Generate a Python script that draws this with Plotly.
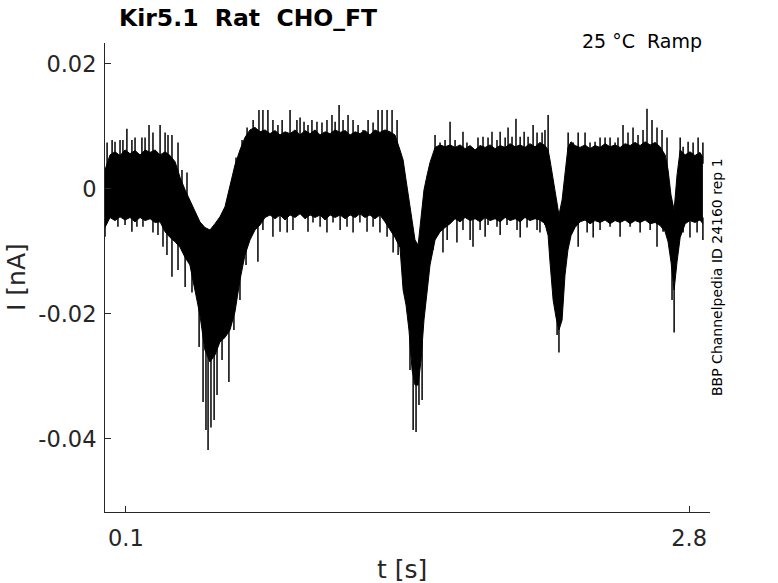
import numpy as np
import plotly.graph_objects as go

# ---- data (t in s, current in nA) ----
# dense core of the trace: time samples, upper edge, lower edge
t_core = [0.000, 0.024, 0.048, 0.072, 0.096, 0.120, 0.144, 0.168, 0.192, 0.216,
          0.240, 0.264, 0.288, 0.312, 0.336, 0.360, 0.384, 0.407, 0.431, 0.455,
          0.479, 0.503, 0.527, 0.551, 0.575, 0.599, 0.623, 0.647, 0.671, 0.695,
          0.719, 0.743, 0.767, 0.791, 0.815, 0.839, 0.863, 0.887, 0.911, 0.935,
          0.959, 0.983, 1.007, 1.031, 1.055, 1.079, 1.103, 1.127, 1.151, 1.175,
          1.199, 1.222, 1.246, 1.270, 1.294, 1.318, 1.342, 1.366, 1.390, 1.414,
          1.429, 1.443, 1.457, 1.472, 1.486, 1.501, 1.515, 1.529, 1.544, 1.558,
          1.582, 1.606, 1.630, 1.654, 1.678, 1.702, 1.726, 1.750, 1.774, 1.798,
          1.822, 1.846, 1.870, 1.894, 1.918, 1.942, 1.966, 1.990, 2.013, 2.037,
          2.061, 2.085, 2.109, 2.124, 2.133, 2.148, 2.162, 2.176, 2.191, 2.205,
          2.219, 2.234, 2.253, 2.277, 2.301, 2.325, 2.349, 2.373, 2.397, 2.421,
          2.445, 2.469, 2.493, 2.517, 2.541, 2.565, 2.589, 2.613, 2.637, 2.661,
          2.685, 2.699, 2.713, 2.728, 2.742, 2.757, 2.781, 2.804, 2.828, 2.852,
          2.866]

upper_core = [0.0030, 0.0054, 0.0059, 0.0053, 0.0062, 0.0056, 0.0061, 0.0054, 0.0062, 0.0058,
              0.0062, 0.0054, 0.0059, 0.0053, 0.0043, 0.0018, -0.0002, -0.0018, -0.0037, -0.0053,
              -0.0062, -0.0066, -0.0056, -0.0045, -0.0029, 0.0006, 0.0038, 0.0062, 0.0082, 0.0094,
              0.0098, 0.0091, 0.0094, 0.0088, 0.0093, 0.0086, 0.0091, 0.0088, 0.0094, 0.0086,
              0.0093, 0.0088, 0.0094, 0.0086, 0.0091, 0.0088, 0.0094, 0.0090, 0.0093, 0.0086,
              0.0091, 0.0088, 0.0093, 0.0086, 0.0094, 0.0090, 0.0094, 0.0091, 0.0086, 0.0062,
              0.0046, 0.0014, -0.0018, -0.0053, -0.0082, -0.0090, -0.0050, -0.0002, 0.0022, 0.0042,
              0.0066, 0.0070, 0.0067, 0.0070, 0.0066, 0.0070, 0.0064, 0.0069, 0.0062, 0.0069,
              0.0066, 0.0070, 0.0064, 0.0069, 0.0066, 0.0072, 0.0067, 0.0070, 0.0066, 0.0072,
              0.0067, 0.0074, 0.0069, 0.0062, 0.0046, 0.0014, -0.0018, -0.0042, -0.0018, 0.0022,
              0.0066, 0.0075, 0.0069, 0.0066, 0.0070, 0.0064, 0.0069, 0.0066, 0.0072, 0.0067,
              0.0070, 0.0066, 0.0072, 0.0069, 0.0074, 0.0069, 0.0075, 0.0070, 0.0074, 0.0067,
              0.0054, 0.0030, -0.0010, -0.0034, 0.0022, 0.0062, 0.0054, 0.0059, 0.0053, 0.0058,
              0.0050]

lower_core = [-0.0062, -0.0046, -0.0051, -0.0045, -0.0050, -0.0046, -0.0053, -0.0046, -0.0051, -0.0048,
              -0.0054, -0.0053, -0.0069, -0.0078, -0.0085, -0.0094, -0.0110, -0.0122, -0.0162, -0.0202,
              -0.0258, -0.0277, -0.0266, -0.0245, -0.0238, -0.0226, -0.0197, -0.0146, -0.0106, -0.0082,
              -0.0066, -0.0058, -0.0046, -0.0042, -0.0048, -0.0042, -0.0050, -0.0042, -0.0046, -0.0040,
              -0.0048, -0.0042, -0.0046, -0.0042, -0.0050, -0.0042, -0.0046, -0.0042, -0.0048, -0.0042,
              -0.0046, -0.0040, -0.0046, -0.0042, -0.0048, -0.0042, -0.0053, -0.0066, -0.0078, -0.0094,
              -0.0162, -0.0186, -0.0226, -0.0290, -0.0314, -0.0314, -0.0274, -0.0210, -0.0162, -0.0122,
              -0.0082, -0.0069, -0.0062, -0.0056, -0.0048, -0.0053, -0.0046, -0.0051, -0.0048, -0.0053,
              -0.0046, -0.0051, -0.0048, -0.0053, -0.0046, -0.0051, -0.0048, -0.0053, -0.0046, -0.0051,
              -0.0048, -0.0050, -0.0056, -0.0075, -0.0117, -0.0178, -0.0206, -0.0226, -0.0210, -0.0138,
              -0.0098, -0.0075, -0.0062, -0.0053, -0.0050, -0.0056, -0.0051, -0.0054, -0.0050, -0.0056,
              -0.0051, -0.0054, -0.0050, -0.0056, -0.0051, -0.0054, -0.0050, -0.0056, -0.0054, -0.0059,
              -0.0069, -0.0085, -0.0117, -0.0162, -0.0117, -0.0078, -0.0056, -0.0051, -0.0054, -0.0050,
              -0.0056]

# isolated noise spikes sticking out of the core
t_spike_up = [0.010, 0.034, 0.048, 0.072, 0.086, 0.105, 0.129, 0.144, 0.177, 0.192,
              0.211, 0.230, 0.264, 0.288, 0.302, 0.321, 0.350, 0.369, 0.393, 0.628,
              0.657, 0.681, 0.710, 0.738, 0.757, 0.781, 0.805, 0.829, 0.849, 0.887,
              0.920, 0.935, 0.954, 0.973, 0.992, 1.016, 1.040, 1.064, 1.088, 1.103,
              1.122, 1.141, 1.165, 1.189, 1.213, 1.237, 1.261, 1.285, 1.309, 1.328,
              1.352, 1.376, 1.400, 1.582, 1.606, 1.630, 1.654, 1.678, 1.716, 1.735,
              1.788, 1.812, 1.836, 1.855, 1.879, 1.894, 1.918, 1.932, 1.951, 1.970,
              1.990, 2.009, 2.028, 2.052, 2.071, 2.095, 2.109, 2.124, 2.220, 2.244,
              2.268, 2.301, 2.325, 2.349, 2.373, 2.397, 2.421, 2.445, 2.459, 2.483,
              2.507, 2.531, 2.555, 2.579, 2.598, 2.622, 2.646, 2.670, 2.694, 2.757,
              2.771, 2.795, 2.819, 2.843, 2.866]
i_spike_up = [0.0074, 0.0078, 0.0075, 0.0078, 0.0078, 0.0096, 0.0078, 0.0082, 0.0082, 0.0082,
              0.0102, 0.0090, 0.0102, 0.0090, 0.0086, 0.0086, 0.0074, 0.0030, 0.0026, 0.0050,
              0.0078, 0.0098, 0.0110, 0.0126, 0.0126, 0.0126, 0.0110, 0.0102, 0.0110, 0.0126,
              0.0110, 0.0114, 0.0107, 0.0102, 0.0110, 0.0107, 0.0106, 0.0110, 0.0118, 0.0107,
              0.0134, 0.0110, 0.0118, 0.0110, 0.0102, 0.0094, 0.0110, 0.0106, 0.0126, 0.0126,
              0.0126, 0.0126, 0.0110, 0.0086, 0.0074, 0.0078, 0.0107, 0.0078, 0.0091, 0.0074,
              0.0082, 0.0083, 0.0082, 0.0091, 0.0078, 0.0091, 0.0082, 0.0098, 0.0083, 0.0112,
              0.0083, 0.0091, 0.0083, 0.0102, 0.0090, 0.0090, 0.0094, 0.0118, 0.0090, 0.0074,
              0.0090, 0.0090, 0.0074, 0.0075, 0.0082, 0.0082, 0.0082, 0.0074, 0.0082, 0.0102,
              0.0090, 0.0098, 0.0086, 0.0094, 0.0128, 0.0110, 0.0098, 0.0094, 0.0082, 0.0082,
              0.0067, 0.0075, 0.0074, 0.0082, 0.0074]

t_spike_down = [0.000, 0.062, 0.096, 0.129, 0.153, 0.182, 0.230, 0.254, 0.278, 0.297,
                0.321, 0.350, 0.384, 0.417, 0.451, 0.470, 0.484, 0.494, 0.508, 0.523,
                0.537, 0.561, 0.594, 0.618, 0.647, 0.676, 0.733, 0.757, 0.805, 0.839,
                0.873, 0.901, 0.973, 0.997, 1.031, 1.064, 1.093, 1.127, 1.160, 1.189,
                1.222, 1.256, 1.285, 1.318, 1.352, 1.381, 1.405, 1.462, 1.477, 1.491,
                1.505, 1.520, 1.572, 1.620, 1.640, 1.687, 1.716, 1.750, 1.764, 1.798,
                1.822, 1.836, 1.879, 1.894, 1.927, 1.975, 1.990, 2.023, 2.071, 2.085,
                2.109, 2.167, 2.176, 2.229, 2.268, 2.311, 2.340, 2.373, 2.421, 2.469,
                2.517, 2.565, 2.613, 2.646, 2.675, 2.718, 2.728, 2.771, 2.804, 2.838,
                2.866]
i_spike_down = [-0.0077, -0.0061, -0.0058, -0.0069, -0.0061, -0.0061, -0.0070, -0.0074, -0.0093, -0.0106,
                -0.0141, -0.0130, -0.0157, -0.0166, -0.0253, -0.0341, -0.0386, -0.0418, -0.0382, -0.0370,
                -0.0330, -0.0274, -0.0309, -0.0226, -0.0178, -0.0122, -0.0117, -0.0066, -0.0077, -0.0069,
                -0.0070, -0.0066, -0.0069, -0.0054, -0.0061, -0.0070, -0.0054, -0.0066, -0.0061, -0.0070,
                -0.0054, -0.0069, -0.0061, -0.0070, -0.0077, -0.0102, -0.0106, -0.0290, -0.0386, -0.0389,
                -0.0346, -0.0338, -0.0098, -0.0102, -0.0082, -0.0086, -0.0066, -0.0082, -0.0093, -0.0066,
                -0.0077, -0.0058, -0.0061, -0.0074, -0.0058, -0.0066, -0.0078, -0.0062, -0.0066, -0.0070,
                -0.0058, -0.0234, -0.0262, -0.0070, -0.0093, -0.0070, -0.0078, -0.0066, -0.0061, -0.0077,
                -0.0061, -0.0070, -0.0066, -0.0093, -0.0069, -0.0178, -0.0230, -0.0070, -0.0078, -0.0070,
                -0.0082]

x_ticks = [0.1, 2.8]
x_ticklabels = ["0.1", "2.8"]
y_ticks = [-0.04, -0.02, 0, 0.02]
y_ticklabels = ["-0.04", "-0.02", "0", "0.02"]

title_text = "Kir5.1\u00a0\u00a0Rat\u00a0\u00a0CHO_FT"
cond_text = "25 °C\u00a0\u00a0Ramp"
id_text = "BBP Channelpedia ID 24160 rep 1"

# ---- build figure ----
FONT = "DejaVu Sans"
AX = "#262626"

fig = go.Figure()
fig.add_trace(go.Scatter(x=t_core, y=lower_core, mode="lines",
                         line=dict(color="black", width=1), hoverinfo="skip"))
fig.add_trace(go.Scatter(x=t_core, y=upper_core, mode="lines", fill="tonexty",
                         fillcolor="black", line=dict(color="black", width=1),
                         hoverinfo="skip"))

# spikes: vertical strokes from inside the core out to the spike value
sx, sy = [], []
up_base = np.interp(t_spike_up, t_core, upper_core)
for t, b, v in zip(t_spike_up, up_base, i_spike_up):
    sx += [t, t, None]
    sy += [b - 0.001, v, None]
dn_base = np.interp(t_spike_down, t_core, lower_core)
for t, b, v in zip(t_spike_down, dn_base, i_spike_down):
    sx += [t, t, None]
    sy += [b + 0.001, v, None]
fig.add_trace(go.Scatter(x=sx, y=sy, mode="lines",
                         line=dict(color="black", width=1.5), hoverinfo="skip"))

fig.update_layout(
    width=778, height=583,
    margin=dict(l=105, r=68, t=43, b=71),
    plot_bgcolor="white", paper_bgcolor="white",
    showlegend=False,
    font=dict(family=FONT, color=AX),
)
fig.update_xaxes(range=[0, 2.9], tickvals=x_ticks, ticktext=x_ticklabels,
                 ticks="inside", ticklen=6, tickcolor=AX, tickwidth=1,
                 showline=True, linecolor=AX, linewidth=1, mirror=False,
                 showgrid=False, zeroline=False,
                 tickfont=dict(family=FONT, size=22.5, color=AX),
                 ticklabelstandoff=6)
fig.update_yaxes(range=[-0.0517, 0.0233], tickvals=y_ticks, ticktext=y_ticklabels,
                 ticks="inside", ticklen=6, tickcolor=AX, tickwidth=1,
                 showline=True, linecolor=AX, linewidth=1, mirror=False,
                 showgrid=False, zeroline=False,
                 tickfont=dict(family=FONT, size=22.5, color=AX),
                 ticklabelstandoff=3)

def px_to_paper(px, py):
    # page pixel position -> paper coordinates of the plot area
    return (px - 105) / 605, (512 - py) / 469

ann = []
x0, y0 = px_to_paper(247.5, 18)
ann.append(dict(x=x0, y=y0, text="<b>" + title_text + "</b>", showarrow=False,
                xanchor="center", yanchor="middle",
                font=dict(family=FONT, size=23.5, color="black")))
x0, y0 = px_to_paper(704, 41)
ann.append(dict(x=x0, y=y0, text=cond_text, showarrow=False,
                xanchor="right", yanchor="middle",
                font=dict(family=FONT, size=19, color="black")))
x0, y0 = px_to_paper(717, 277)
ann.append(dict(x=x0, y=y0, text=id_text, showarrow=False, textangle=-90,
                xanchor="center", yanchor="middle",
                font=dict(family=FONT, size=14, color="black")))
x0, y0 = px_to_paper(16, 277)
ann.append(dict(x=x0, y=y0, text="I [nA]", showarrow=False, textangle=-90,
                xanchor="center", yanchor="middle",
                font=dict(family=FONT, size=25, color=AX)))
x0, y0 = px_to_paper(402, 569)
ann.append(dict(x=x0, y=y0, text="t [s]", showarrow=False,
                xanchor="center", yanchor="middle",
                font=dict(family=FONT, size=25, color=AX)))
for a in ann:
    a.update(xref="paper", yref="paper")
fig.update_layout(annotations=ann)

# remove the browser's default 8 px body margin so the figure sits at the page origin
fig.write_html("out.html",
               config={"displayModeBar": False},
               post_script="document.body.style.margin='0px';"
                           "document.body.style.overflow='hidden';")
